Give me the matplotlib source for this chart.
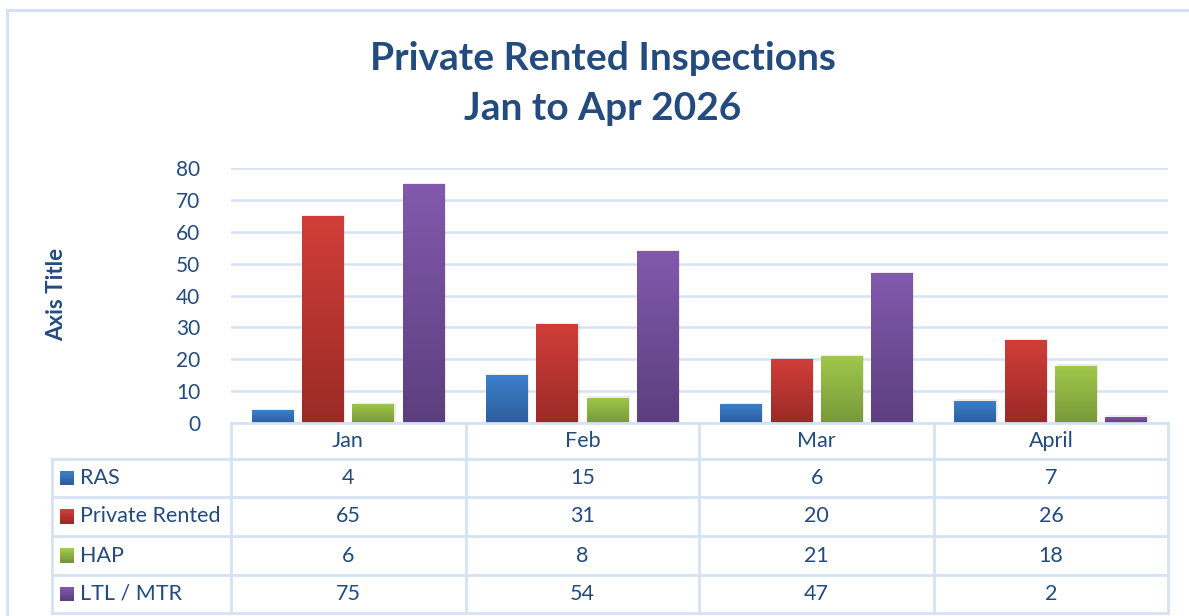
import numpy as np
import matplotlib
matplotlib.use("Agg")
import matplotlib.pyplot as plt
import matplotlib.transforms as mtransforms
from matplotlib.colors import LinearSegmentedColormap
from matplotlib.patches import Rectangle
from matplotlib.lines import Line2D

# ---- data ----
months = ["Jan", "Feb", "Mar", "April"]
series_names = ["RAS", "Private Rented", "HAP", "LTL / MTR"]
ras = [4, 15, 6, 7]
private_rented = [65, 31, 20, 26]
hap = [6, 8, 21, 18]
ltl_mtr = [75, 54, 47, 2]
yticks = [0, 10, 20, 30, 40, 50, 60, 70, 80]
title_lines = ["Private Rented Inspections", "Jan to Apr 2026"]
ylabel = "Axis Title"

series_values = [ras, private_rented, hap, ltl_mtr]
grad_colors = [("#3C80CC", "#2D5D9C"),
               ("#D13E39", "#9A2A26"),
               ("#A0C84A", "#77993A"),
               ("#8259AD", "#5C3F7E")]

TXT = "#234B7E"
GRID = "#D6E2F2"
FONT = "Lato"

W, H = 1189, 616
fig = plt.figure(figsize=(W / 100, H / 100), dpi=100)
fig.patch.set_facecolor("white")

def fx(px):
    return px / W

def fy(py):
    return 1 - py / H

# outer chart border (left and top visible)
fig.add_artist(Line2D([fx(7), fx(7)], [fy(10), fy(620)], color=GRID, lw=2.2))
fig.add_artist(Line2D([fx(7), fx(1195)], [fy(10), fy(10)], color=GRID, lw=2.2))

# plot axes
L, R, T, B = 231, 1168, 168, 423
ax = fig.add_axes([fx(L), fy(B), fx(R - L), (B - T) / H])
x = np.arange(len(months))
bw = 42 / 235
step = 50.5 / 235
ax.set_xlim(-0.5, len(months) - 0.5)
ax.set_ylim(0, 80)
grad = np.linspace(0, 1, 256).reshape(-1, 1)
for i, (vals, (c1, c2)) in enumerate(zip(series_values, grad_colors)):
    xs = x + (i - 1.5) * step
    bars = ax.bar(xs, vals, width=bw, color=c2, zorder=3, linewidth=0)
    cmap = LinearSegmentedColormap.from_list(f"g{i}", [c2, c1])
    for b in bars:
        bx, by = b.get_x(), b.get_y()
        bwid, bh = b.get_width(), b.get_height()
        ax.add_patch(Rectangle((bx + 0.006, by), bwid, bh + 0.4, color="#000000",
                               alpha=0.08, zorder=2, linewidth=0))
        im = ax.imshow(grad, extent=[bx, bx + bwid, by, by + bh], origin="lower",
                       cmap=cmap, aspect="auto", zorder=4)
        im.set_clip_path(b)
ax.set_xlim(-0.5, len(months) - 0.5)
ax.set_ylim(0, 80)
ax.set_aspect("auto")
ax.set_yticks(yticks)
ax.yaxis.grid(True, color=GRID, lw=1.8, zorder=0)
ax.set_axisbelow(True)
ax.set_xticks([])
for s in ["top", "right", "left", "bottom"]:
    ax.spines[s].set_visible(False)
ax.tick_params(axis="y", length=0, pad=22, labelsize=15, labelcolor=TXT)
for lab in ax.get_yticklabels():
    lab.set_fontfamily(FONT)

# title and y label
fig.text(fx(603), fy(58), title_lines[0], ha="center", va="center",
         fontsize=28, fontweight="bold", color=TXT, family=FONT)
fig.text(fx(603), fy(108), title_lines[1], ha="center", va="center",
         fontsize=28, fontweight="bold", color=TXT, family=FONT)
fig.text(fx(57), fy(294), ylabel, rotation=90, ha="center", va="center",
         fontsize=16, fontweight="bold", color=TXT, family=FONT)

# data table
row_edges = [423, 459, 497, 536, 575, 613]
col_edges = [466, 699, 934]
tl = 52
lw = 2.0
fig.add_artist(Line2D([fx(L), fx(R)], [fy(423), fy(423)], color=GRID, lw=lw))
for ry in row_edges[1:]:
    fig.add_artist(Line2D([fx(tl), fx(R)], [fy(ry), fy(ry)], color=GRID, lw=lw))
fig.add_artist(Line2D([fx(tl), fx(tl)], [fy(459), fy(613)], color=GRID, lw=lw))
for cx in [L] + col_edges + [R]:
    fig.add_artist(Line2D([fx(cx), fx(cx)], [fy(423), fy(613)], color=GRID, lw=lw))

blend = mtransforms.blended_transform_factory(ax.transData, fig.transFigure)
TS = 15.5
for i, m in enumerate(months):
    ax.text(x[i], fy(441), m, ha="center", va="center", fontsize=TS, color=TXT,
            family=FONT, clip_on=False, transform=blend)

nstrip = 8
for r, (name, vals, (c1, c2)) in enumerate(zip(series_names, series_values, grad_colors)):
    yc = (row_edges[r + 1] + row_edges[r + 2]) / 2
    scm = LinearSegmentedColormap.from_list(f"s{r}", [c1, c2])
    sw_top = yc - 7
    for k in range(nstrip):
        fig.add_artist(Rectangle((fx(60), fy(sw_top + (k + 1) * 14 / nstrip)),
                                 fx(14), 14 / nstrip / H + 0.0005,
                                 facecolor=scm(k / (nstrip - 1)), edgecolor="none"))
    fig.text(fx(80), fy(yc), name, ha="left", va="center", fontsize=TS,
             color=TXT, family=FONT)
    for i, v in enumerate(vals):
        ax.text(x[i], fy(yc), str(v), ha="center", va="center", fontsize=TS,
                color=TXT, family=FONT, clip_on=False, transform=blend)

fig.savefig("out.png", dpi=100, facecolor="white")
